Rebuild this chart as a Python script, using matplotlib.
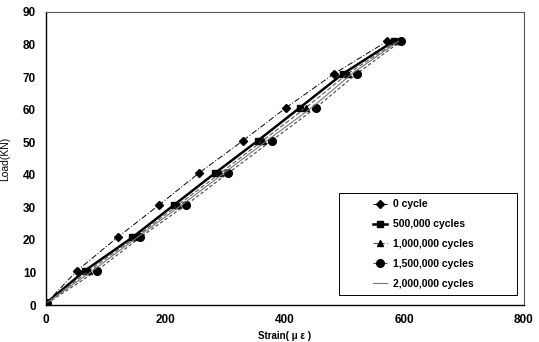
import matplotlib
matplotlib.use("Agg")
import matplotlib.pyplot as plt
from matplotlib.patches import Rectangle

# load steps (kN) shared by every series
load = [0.5, 10.5, 20.8, 30.8, 40.5, 50.5, 60.6, 71.0, 81.0]

# strain readings (micro-strain) per fatigue stage
strain_0 = [0, 52, 120, 190, 256, 330, 402, 482, 571]
strain_500k = [0, 65, 145, 215, 283, 355, 425, 497, 582]
strain_1m = [0, 72, 150, 222, 292, 363, 435, 505, 588]
strain_15m = [2, 85, 158, 235, 305, 378, 452, 520, 594]
strain_2m = [0, 78, 153, 228, 298, 370, 445, 512, 590]

labels = ["0 cycle", "500,000 cycles", "1,000,000 cycles",
          "1,500,000 cycles", "2,000,000 cycles"]
x_ticks = [0, 200, 400, 600, 800]
y_ticks = [0, 10, 20, 30, 40, 50, 60, 70, 80, 90]

plt.rcParams["font.family"] = ["Liberation Sans", "DejaVu Sans"]

fig = plt.figure(figsize=(5.39, 3.42), dpi=100)
ax = fig.add_axes([0.085, 0.108, 0.887, 0.857])

ax.plot(strain_0, load, color="black", linestyle=(0, (6, 2, 1, 2)),
        linewidth=0.7, marker="D", markersize=4, label=labels[0])
ax.plot(strain_500k, load, color="black", linestyle="-", linewidth=1.8,
        marker="s", markersize=5, label=labels[1])
ax.plot(strain_1m, load, color="#555555", linestyle=(0, (4, 2)),
        linewidth=0.8, marker="^", markersize=5, markerfacecolor="black",
        markeredgecolor="black", label=labels[2])
ax.plot(strain_15m, load, color="#444444", linestyle=(0, (3, 2)),
        linewidth=0.8, marker="o", markersize=5.5, markerfacecolor="black",
        markeredgecolor="black", label=labels[3])
ax.plot(strain_2m, load, color="#777777", linestyle="-", linewidth=0.8,
        label=labels[4])

ax.set_xlim(0, 800)
ax.set_ylim(0, 90)
ax.set_xticks(x_ticks)
ax.set_yticks(y_ticks)
ax.tick_params(length=0, labelsize=8.5)
ax.tick_params(axis="x", pad=6.5)
ax.tick_params(axis="y", pad=7)
for t in ax.get_xticklabels() + ax.get_yticklabels():
    t.set_fontweight("bold")

ax.set_xlabel("Strain( \u03bc \u03b5 )", fontsize=7, fontweight="bold")
ax.xaxis.set_label_coords(0.5, -0.088)
ax.set_ylabel("Load(KN)", fontsize=7.5)
ax.yaxis.set_label_coords(-0.075, 0.5)

for side in ["left", "bottom"]:
    ax.spines[side].set_linewidth(1.0)
for side in ["top", "right"]:
    ax.spines[side].set_color("#555555")
    ax.spines[side].set_linewidth(0.8)

# legend frame drawn separately so the entries can sit centred in it
ax.add_patch(Rectangle((0.613, 0.034), 0.372, 0.348, transform=ax.transAxes,
                       facecolor="white", edgecolor="black", linewidth=0.7,
                       zorder=4))
leg = ax.legend(loc="center", bbox_to_anchor=(0.79, 0.208), fontsize=7.5,
                frameon=False, labelspacing=0.95, handlelength=1.3,
                handletextpad=0.6, borderaxespad=0, borderpad=0)
leg.set_zorder(5)
for text in leg.get_texts():
    text.set_fontweight("bold")

fig.savefig("out.png", dpi=100)
